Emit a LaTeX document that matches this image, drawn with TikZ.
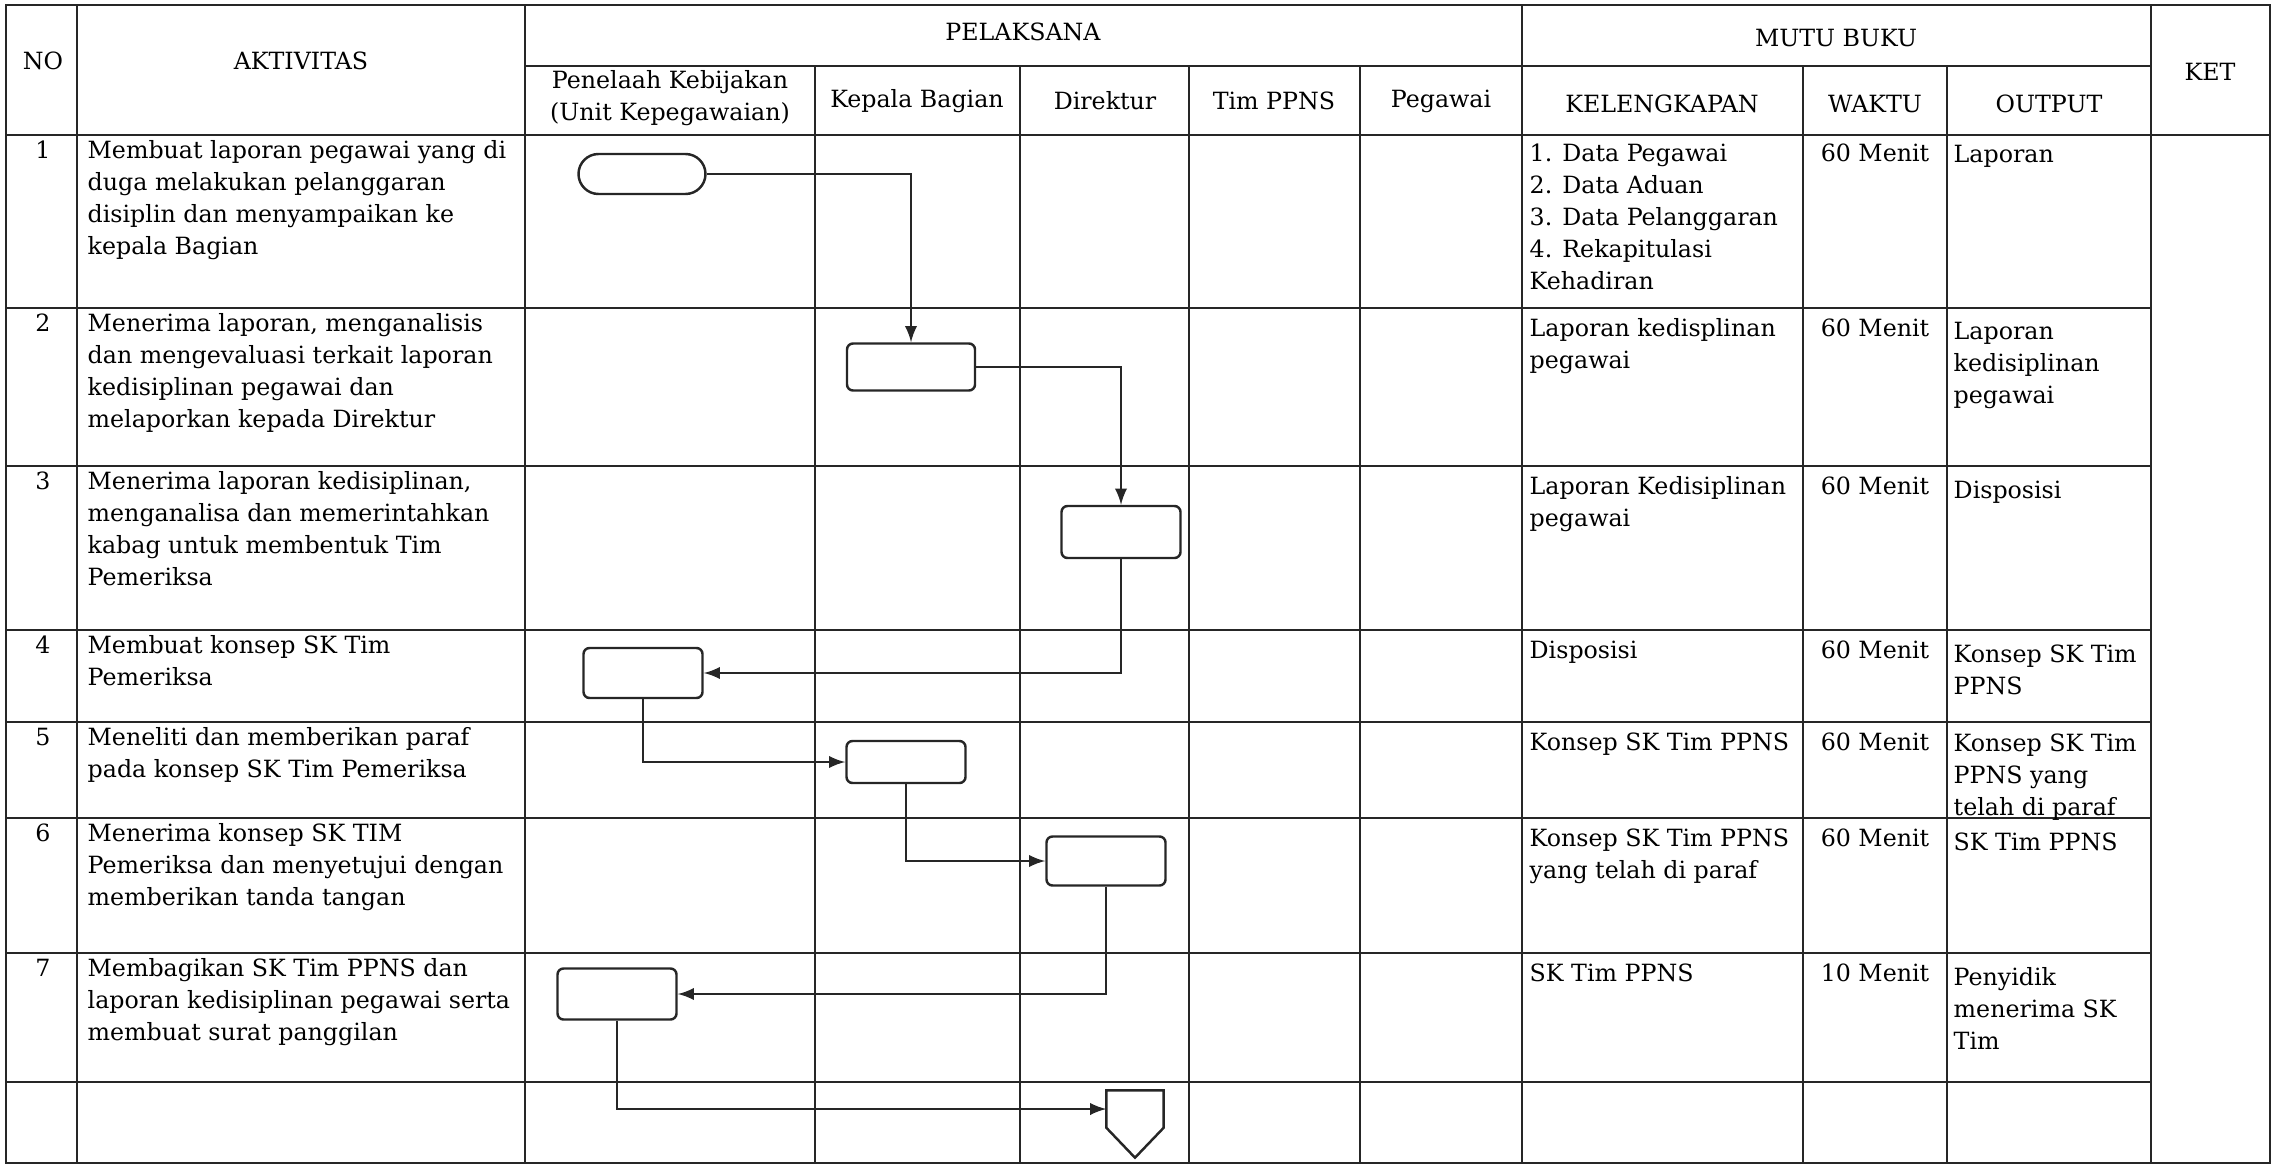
\documentclass[tikz,border=0pt]{standalone}
\usepackage{fontspec}
\setmainfont{DejaVu Serif}
\usepackage{tikz}
\newcommand\tblfont{\fontsize{6.75pt}{9.1pt}\selectfont}

\begin{document}
\begin{tikzpicture}[>=latex,
  grid/.style={draw=black!85, line width=0.8pt},
  box/.style={draw=black!85, line width=0.7pt, rounded corners=0.06cm,
    minimum width=1.19cm, minimum height=0.50cm, inner sep=0pt},
  term/.style={box, rounded corners=0.2cm, minimum width=1.27cm, minimum height=0.40cm},
  flow/.style={->, draw=black!85, line width=0.6pt},
  cell/.style={anchor=north west, inner sep=0pt, align=left, font=\tblfont},
  head/.style={inner sep=0pt, align=center, font=\tblfont}]
\useasboundingbox (0,0) rectangle (22.74cm,-11.75cm);
%frame
\draw[grid] (0.06cm,-0.05cm) rectangle (22.70cm,-11.63cm);
%header lines
\draw[grid] (5.25cm,-0.66cm) -- (21.51cm,-0.66cm);
\draw[grid] (0.06cm,-1.35cm) -- (22.70cm,-1.35cm);
%row lines (not through KET)
\foreach \y in {3.08,4.66,6.30,7.22,8.18,9.53,10.82}
{
  \draw[grid] (0.06cm,-\y cm) -- (21.51cm,-\y cm);
}
%columns
\foreach \x in {0.77,5.25,15.22,21.51}
{
  \draw[grid] (\x cm,-0.05cm) -- (\x cm,-11.63cm);
}
\foreach \x in {8.15,10.20,11.89,13.60,18.03,19.47}
{
  \draw[grid] (\x cm,-0.66cm) -- (\x cm,-11.63cm);
}
%header
\node[head] (no) at (0.43cm,-0.61cm) {NO};
\node[head] (akt) at (3.01cm,-0.61cm) {AKTIVITAS};
\node[head] (pel) at (10.23cm,-0.32cm) {PELAKSANA};
\node[head] (mutu) at (18.36cm,-0.38cm) {MUTU BUKU};
\node[head] (ket) at (22.10cm,-0.72cm) {KET};
\node[head] (hpen) at (6.70cm,-0.98cm) {Penelaah Kebijakan\\(Unit Kepegawaian)};
\node[head] (hkab) at (9.17cm,-1.01cm) {Kepala Bagian};
\node[head] (hdir) at (11.05cm,-1.01cm) {Direktur};
\node[head] (htim) at (12.74cm,-1.01cm) {Tim PPNS};
\node[head] (hpeg) at (14.41cm,-1.01cm) {Pegawai};
\node[head] (hkel) at (16.62cm,-1.04cm) {KELENGKAPAN};
\node[head] (hwak) at (18.75cm,-1.04cm) {WAKTU};
\node[head] (hout) at (20.49cm,-1.04cm) {OUTPUT};
%row numbers and time
\foreach \n/\y in {1/1.40,2/3.13,3/4.71,4/6.35,5/7.27,6/8.23,7/9.58}
{
  \node[cell, anchor=north] (n\n) at (0.43cm,-\y cm) {\n};
}
\foreach \n/\t/\y in {1/60/1.43,2/60/3.18,3/60/4.76,4/60/6.40,5/60/7.32,6/60/8.28,7/10/9.63}
{
  \node[cell, anchor=north] (w\n) at (18.75cm,-\y cm) {\t\ Menit};
}
%aktivitas
\node[cell] (a1) at (0.87cm,-1.40cm) {Membuat laporan pegawai yang di\\duga melakukan pelanggaran\\disiplin dan menyampaikan ke\\kepala Bagian};
\node[cell] (a2) at (0.87cm,-3.13cm) {Menerima laporan, menganalisis\\dan mengevaluasi terkait laporan\\kedisiplinan pegawai dan\\melaporkan kepada Direktur};
\node[cell] (a3) at (0.87cm,-4.71cm) {Menerima laporan kedisiplinan,\\menganalisa dan memerintahkan\\kabag untuk membentuk Tim\\Pemeriksa};
\node[cell] (a4) at (0.87cm,-6.35cm) {Membuat konsep SK Tim\\Pemeriksa};
\node[cell] (a5) at (0.87cm,-7.27cm) {Meneliti dan memberikan paraf\\pada konsep SK Tim Pemeriksa};
\node[cell] (a6) at (0.87cm,-8.23cm) {Menerima konsep SK TIM\\Pemeriksa dan menyetujui dengan\\memberikan tanda tangan};
\node[cell] (a7) at (0.87cm,-9.58cm) {Membagikan SK Tim PPNS dan\\laporan kedisiplinan pegawai serta\\membuat surat panggilan};
%kelengkapan
\node[cell] (k1) at (15.29cm,-1.43cm) {1. Data Pegawai\\2. Data Aduan\\3. Data Pelanggaran\\4. Rekapitulasi\\Kehadiran};
\node[cell] (k2) at (15.29cm,-3.18cm) {Laporan kedisplinan\\pegawai};
\node[cell] (k3) at (15.29cm,-4.76cm) {Laporan Kedisiplinan\\pegawai};
\node[cell] (k4) at (15.29cm,-6.40cm) {Disposisi};
\node[cell] (k5) at (15.29cm,-7.32cm) {Konsep SK Tim PPNS};
\node[cell] (k6) at (15.29cm,-8.28cm) {Konsep SK Tim PPNS\\yang telah di paraf};
\node[cell] (k7) at (15.29cm,-9.63cm) {SK Tim PPNS};
%output
\node[cell] (o1) at (19.53cm,-1.45cm) {Laporan};
\node[cell] (o2) at (19.53cm,-3.22cm) {Laporan\\kedisiplinan\\pegawai};
\node[cell] (o3) at (19.53cm,-4.80cm) {Disposisi};
\node[cell] (o4) at (19.53cm,-6.44cm) {Konsep SK Tim\\PPNS};
\node[cell] (o5) at (19.53cm,-7.33cm) {Konsep SK Tim\\PPNS yang\\telah di paraf};
\node[cell] (o6) at (19.53cm,-8.32cm) {SK Tim PPNS};
\node[cell] (o7) at (19.53cm,-9.67cm) {Penyidik\\menerima SK\\Tim};
%flow symbols
\node[term] (mulai) at (6.42cm,-1.74cm) {};
\node[box, minimum width=1.28cm, minimum height=0.47cm] (kabag1) at (9.11cm,-3.67cm) {};
\node[box, minimum height=0.52cm] (dir1) at (11.21cm,-5.32cm) {};
\node[box] (pen1) at (6.43cm,-6.73cm) {};
\node[box, minimum height=0.42cm] (kabag2) at (9.06cm,-7.62cm) {};
\node[box, minimum height=0.49cm] (dir2) at (11.06cm,-8.61cm) {};
\node[box, minimum height=0.51cm] (pen2) at (6.17cm,-9.94cm) {};
\node[minimum width=0.56cm, minimum height=0.36cm, inner sep=0pt] (selesai) at (11.35cm,-11.09cm) {};
\draw[black!85, line width=0.7pt] (selesai.south west) -- (selesai.north west)
  -- (selesai.north east) -- (selesai.south east) -- ([yshift=-0.30cm]selesai.south) -- cycle;
%connectors
\draw[flow] (mulai.east) -| (kabag1.north);
\draw[flow] (kabag1.east) -| (dir1.north);
\draw[flow] (dir1.south) |- (pen1.east);
\draw[flow] (pen1.south) |- (kabag2.west);
\draw[flow] (kabag2.south) |- (dir2.west);
\draw[flow] (dir2.south) |- (pen2.east);
\draw[flow] (pen2.south) |- (selesai.west);
\end{tikzpicture}
\end{document}
